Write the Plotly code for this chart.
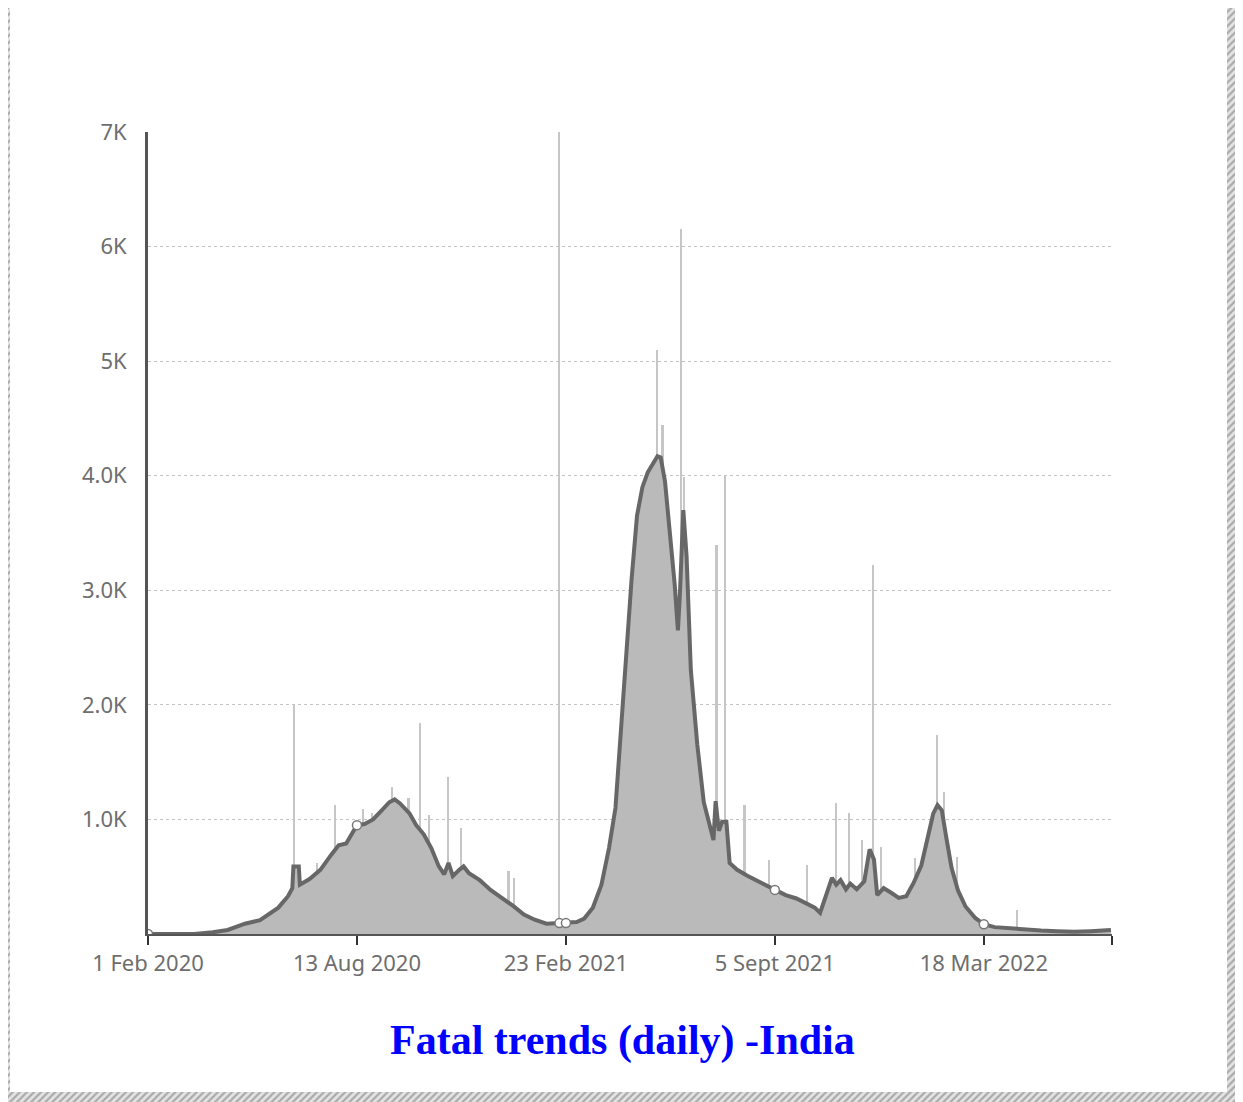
import plotly.graph_objects as go

# 7-day average of daily deaths
avg_dates = [
    "2020-02-01", "2020-03-15", "2020-04-01", "2020-04-15", "2020-05-01", "2020-05-15",
    "2020-06-01", "2020-06-10", "2020-06-14", "2020-06-15", "2020-06-20", "2020-06-21",
    "2020-06-30", "2020-07-10", "2020-07-20", "2020-07-27", "2020-08-03", "2020-08-08",
    "2020-08-13", "2020-08-20", "2020-08-28", "2020-09-05", "2020-09-12", "2020-09-17",
    "2020-09-22", "2020-10-01", "2020-10-07", "2020-10-14", "2020-10-21", "2020-10-28",
    "2020-11-02", "2020-11-06", "2020-11-10", "2020-11-16", "2020-11-20", "2020-11-25",
    "2020-12-05", "2020-12-15", "2020-12-25", "2021-01-05", "2021-01-15", "2021-01-25",
    "2021-02-05", "2021-02-17", "2021-02-23", "2021-03-05", "2021-03-12", "2021-03-20",
    "2021-03-28", "2021-04-04", "2021-04-10", "2021-04-15", "2021-04-20", "2021-04-25",
    "2021-04-30", "2021-05-05", "2021-05-10", "2021-05-15", "2021-05-19", "2021-05-22",
    "2021-05-26", "2021-05-30", "2021-06-04", "2021-06-07", "2021-06-09", "2021-06-12",
    "2021-06-15", "2021-06-19", "2021-06-25", "2021-07-01", "2021-07-06", "2021-07-10",
    "2021-07-12", "2021-07-15", "2021-07-18", "2021-07-22", "2021-07-25", "2021-08-01",
    "2021-08-10", "2021-08-20", "2021-08-28", "2021-09-05", "2021-09-15", "2021-09-25",
    "2021-10-05", "2021-10-12", "2021-10-17", "2021-10-22", "2021-10-28", "2021-11-01",
    "2021-11-05", "2021-11-10", "2021-11-14", "2021-11-20", "2021-11-27", "2021-12-02",
    "2021-12-06", "2021-12-09", "2021-12-15", "2021-12-22", "2021-12-29", "2022-01-05",
    "2022-01-12", "2022-01-19", "2022-01-25", "2022-01-30", "2022-02-03", "2022-02-07",
    "2022-02-11", "2022-02-16", "2022-02-22", "2022-03-01", "2022-03-10", "2022-03-18",
    "2022-03-28", "2022-04-10", "2022-04-25", "2022-05-10", "2022-05-25", "2022-06-10",
    "2022-06-25", "2022-07-14",
]
avg_deaths = [
    0, 0, 15, 35, 90, 120,
    230, 330, 400, 590, 590, 430,
    480, 560, 690, 775, 790, 870,
    950, 960, 1000, 1080, 1150, 1175,
    1140, 1050, 950, 870, 750, 590,
    520, 620, 505, 560, 590, 530,
    470, 385, 320, 245, 170, 125,
    90, 95, 95, 105, 135, 230,
    430, 750, 1100, 1800, 2500, 3100,
    3650, 3900, 4030, 4100, 4170, 4160,
    3950, 3550, 3050, 2650, 3000, 3700,
    3300, 2300, 1650, 1150, 950, 820,
    1160, 900, 980, 980, 620, 560,
    510, 465, 425, 385, 340, 310,
    265, 230, 185, 330, 490, 430,
    470, 390, 440, 390, 460, 740,
    650, 340, 400, 360, 315, 330,
    450, 600, 850, 1050, 1125, 1080,
    850, 580, 380, 240, 140, 85,
    60, 50, 35, 30, 25, 20,
    25, 35,
]

# isolated daily spikes standing above the average
spike_dates = [
    "2020-06-16", "2020-07-07", "2020-07-24", "2020-08-19", "2020-08-27", "2020-09-15",
    "2020-09-30", "2020-10-11", "2020-10-19", "2020-11-06", "2020-11-18", "2021-01-01",
    "2021-01-06", "2021-02-17", "2021-05-19", "2021-05-24", "2021-06-10", "2021-06-13",
    "2021-07-13", "2021-07-21", "2021-08-08", "2021-08-31", "2021-10-05", "2021-11-01",
    "2021-11-13", "2021-11-25", "2021-12-05", "2021-12-13", "2022-01-13", "2022-02-03",
    "2022-02-09", "2022-02-21", "2022-04-18",
]
spike_deaths = [
    2003, 620, 1130, 1090, 1055, 1285,
    1190, 1840, 1040, 1370, 925, 550,
    490, 7000, 5100, 4440, 6150, 3990,
    3395, 4000, 1125, 645, 600, 1140,
    1055, 820, 3220, 760, 660, 1735,
    1240, 675, 210,
]

marker_dates = ["2020-02-01", "2020-08-13", "2021-02-17", "2021-02-23", "2021-09-05", "2022-03-18"]

tick_dates = ["2020-02-01", "2020-08-13", "2021-02-23", "2021-09-05", "2022-03-18", "2022-07-15"]
tick_text = ["1 Feb 2020", "13 Aug 2020", "23 Feb 2021", "5 Sept 2021", "18 Mar 2022", ""]

y_ticks = [1000, 2000, 3000, 4000, 5000, 6000, 7000]
y_text = ["1.0K", "2.0K", "3.0K", "4.0K", "5K", "6K", "7K"]

# the page body adds an 8px margin, so the figure is drawn 8px in from the window corner
OFF = 8
W, H = 1243 - OFF, 1102 - OFF
avg_lookup = dict(zip(avg_dates, avg_deaths))


def px_x(v):
    return (v - OFF) / W


def px_y(v):
    return 1 - (v - OFF) / H


fig = go.Figure()

# hatched frame around the page (own full-page axes); the last 8px on the right are not shown
bl, bb = 10 - OFF, 10
rx0, rx1 = W - 16, W - 8
fx = [0, bl, bl, 0, 0, None,
      rx0, rx1, rx1, rx0, rx0, None,
      0, rx1, rx1, 0, 0]
fy = [0, 0, H, H, 0, None,
      0, 0, H, H, 0, None,
      H - bb, H - bb, H, H, H - bb]
fig.add_trace(go.Scatter(
    x=fx, y=fy, xaxis="x2", yaxis="y2",
    mode="lines", line=dict(width=0),
    fill="toself", fillcolor="#e4e4e4",
    fillpattern=dict(shape="/", size=5, solidity=0.45, fgcolor="#707070", bgcolor="#e4e4e4"),
    hoverinfo="skip",
))

fig.add_trace(go.Bar(
    x=spike_dates, y=spike_deaths,
    width=1.6 * 86400000,
    marker=dict(color="#c6c6c6", line=dict(width=0)),
))

fig.add_trace(go.Scatter(
    x=avg_dates, y=avg_deaths,
    mode="lines",
    line=dict(color="#676767", width=4),
    fill="tozeroy",
    fillcolor="#bababa",
))

fig.add_trace(go.Scatter(
    x=marker_dates, y=[avg_lookup[d] for d in marker_dates],
    mode="markers",
    marker=dict(size=9, color="white", line=dict(color="#777", width=1.5)),
))

label_font = dict(family="Noto Sans, Open Sans, sans-serif", size=22, color="#6e6e6e")

fig.update_layout(
    width=W, height=H,
    autosize=False,
    margin=dict(l=0, r=0, t=0, b=0, pad=0),
    paper_bgcolor="white",
    plot_bgcolor="rgba(0,0,0,0)",
    showlegend=False,
    bargap=0,
    xaxis=dict(
        domain=[px_x(148), px_x(1112)],
        type="date",
        range=["2020-02-01", "2022-07-15"],
        tickvals=tick_dates, ticktext=tick_text,
        tickfont=label_font,
        automargin=False,
        showgrid=False, zeroline=False,
        showline=True, linecolor="#555", linewidth=2,
        ticks="outside", ticklen=9, tickwidth=2, tickcolor="#333",
    ),
    yaxis=dict(
        domain=[px_y(934), px_y(132)],
        range=[0, 7000],
        tickvals=y_ticks, ticktext=y_text,
        tickfont=label_font,
        ticklabelstandoff=14,
        automargin=False,
        showgrid=True, gridcolor="#c4c4c4", gridwidth=1, griddash="dot",
        zeroline=False,
        showline=True, linecolor="#555", linewidth=3,
    ),
    xaxis2=dict(domain=[0, 1], range=[0, W], visible=False, anchor="y2", automargin=False),
    yaxis2=dict(domain=[0, 1], range=[H, 0], visible=False, anchor="x2", automargin=False),
    annotations=[dict(
        text="<b>Fatal trends (daily) -India</b>",
        x=px_x(622), y=px_y(1040), xref="paper", yref="paper",
        xanchor="center", yanchor="middle", showarrow=False,
        font=dict(family="Liberation Serif, Times New Roman, serif", size=42, color="#0000ff"),
    )],
)

fig.write_html("out.html")
